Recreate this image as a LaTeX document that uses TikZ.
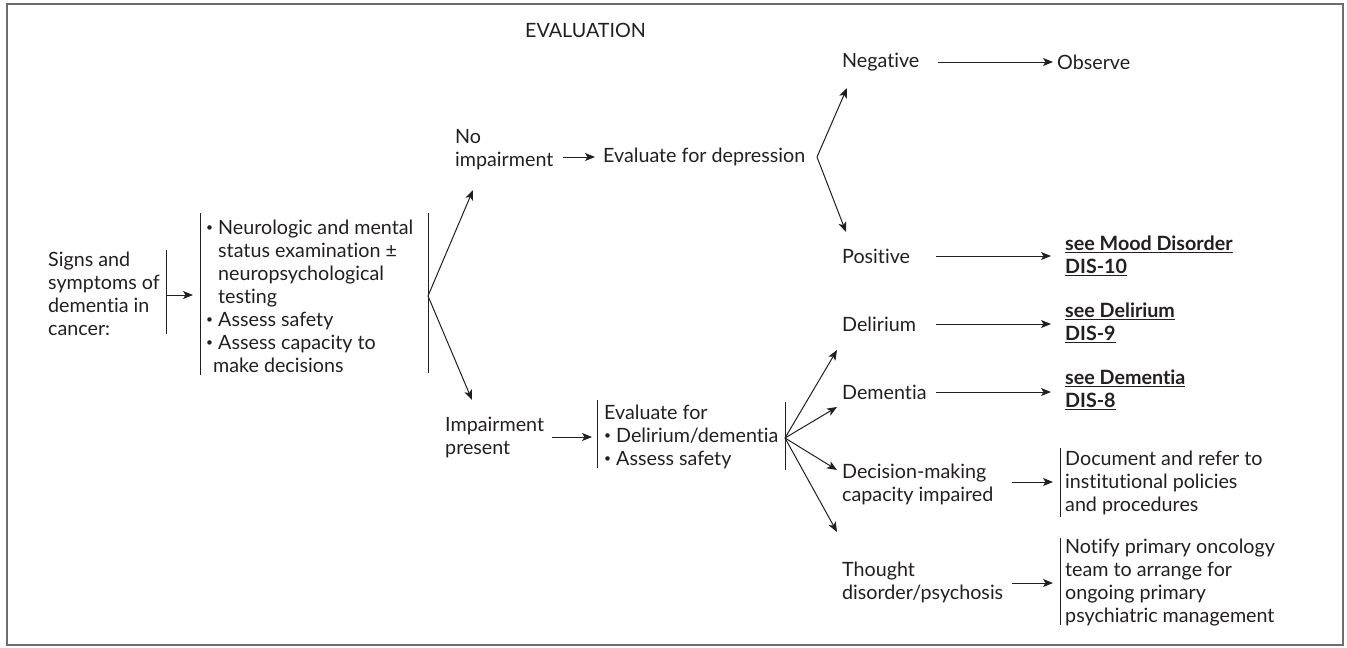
\documentclass[tikz,border=0pt]{standalone}
\usepackage{fontspec}
\setmainfont{Lato}[Ligatures=NoCommon]
\usetikzlibrary{arrows.meta}
\definecolor{ink}{HTML}{231F20}
\definecolor{framegray}{HTML}{6D6D6D}
\newcommand{\seeref}[1]{\underline{#1}}
\newcommand{\bul}{\raisebox{0.28ex}{\fontsize{12}{12}\selectfont•}}
\begin{document}
\begin{tikzpicture}[x=1pt,y=-1pt,
  txt/.style={anchor=west, align=left, inner sep=0pt, text=ink,
              font=\fontsize{19.7}{23}\selectfont},
  reftxt/.style={txt, font=\fontsize{19.7}{23}\selectfont\bfseries},
  arr/.style={-{Stealth[length=10pt,width=8pt,inset=2.5pt]}, line width=1pt, draw=ink},
  bar/.style={line width=1pt, draw=ink}]
\useasboundingbox (0,0) rectangle (1347,648);
\draw[framegray, line width=2pt] (7,4) rectangle (1343,645);

% ---- texts ----
\node[txt] (evaltitle) at (525,30) {EVALUATION};
\node[txt] (signs) at (48,294) {Signs and\\symptoms of\\dementia in\\cancer:};
\node[txt] (exam) at (206,296) {\bul\ Neurologic and mental\\
  \hphantom{\bul\ }status examination ±\\
  \hphantom{\bul\ }neuropsychological\\
  \hphantom{\bul\ }testing\\
  \bul\ Assess safety\\
  \bul\ Assess capacity to\\
  \hphantom{\bul}make decisions};
\node[txt] (noimp) at (455,150) {No\\impairment};
\node[txt] (evdep) at (603,157) {Evaluate for depression};
\node[txt] (impres) at (445,437) {Impairment\\present};
\node[txt] (evalfor) at (604,437) {Evaluate for\\\bul\ Delirium/dementia\\\bul\ Assess safety};

\node[txt] (neg) at (842,62) {Negative};
\node[txt] (observe) at (1057,62) {Observe};
\node[txt] (pos) at (842,256) {Positive};
\node[reftxt] (moodref) at (1065,256) {\seeref{see Mood Disorder}\\\seeref{DIS-10}};
\node[txt] (delir) at (842,324) {Delirium};
\node[reftxt] (delref) at (1065,323) {\seeref{see Delirium}\\\seeref{DIS-9}};
\node[txt] (dement) at (842,392) {Dementia};
\node[reftxt] (demref) at (1065,390) {\seeref{see Dementia}\\\seeref{DIS-8}};
\node[txt] (decis) at (842,484) {Decision-making\\capacity impaired};
\node[txt] (docref) at (1065,483) {Document and refer to\\institutional policies\\and procedures};
\node[txt] (thought) at (842,582) {Thought\\disorder/psychosis};
\node[txt] (notify) at (1065,583) {Notify primary oncology\\team to arrange for\\ongoing primary\\psychiatric management};

% ---- bracket bars ----
\draw[bar] (166,250) coordinate (signsbarT) -- (166,334) coordinate (signsbarB);
\coordinate (signsout) at (166,295);
\draw[bar] (200,213) coordinate (examlT) -- (200,375) coordinate (examlB);
\coordinate (examin) at (200,295);
\draw[bar] (428,213) coordinate (examrT) -- (428,373) coordinate (examrB);
\coordinate (examout) at (428,296);
\draw[bar] (597,400) coordinate (evforlT) -- (597,468) coordinate (evforlB);
\coordinate (evforin) at (597,437);
\draw[bar] (785,402) coordinate (evforrT) -- (785,470) coordinate (evforrB);
\coordinate (evforout) at (785,438);
\draw[bar] (1060,448) coordinate (docbarT) -- (1060,517) coordinate (docbarB);
\coordinate (docin) at (1060,482);
\draw[bar] (1060,538) coordinate (notbarT) -- (1060,625) coordinate (notbarB);
\coordinate (notin) at (1060,583);
\coordinate (depout) at (817,157);

% ---- arrow tails and tips ----
\coordinate (noimpTip) at (473,190);
\coordinate (impresTip) at (472,400);
\coordinate (negTip) at (847,88);
\coordinate (posTip) at (846,232);
\coordinate (delTip) at (837,350);
\coordinate (demTip) at (837,407);
\coordinate (decTip) at (837,470);
\coordinate (thTip) at (837,532);
\coordinate (noimpOut) at (563,157);
\coordinate (impresOut) at (552,437);
\coordinate (negOut) at (938,62);
\coordinate (posOut) at (936,256);
\coordinate (delOut) at (936,324);
\coordinate (demOut) at (936,392);
\coordinate (decOut) at (1012,482);
\coordinate (thOut) at (1012,583);

% ---- connectors ----
\draw[arr, shorten >=7pt] (signsout) -- (examin);
\draw[arr] (examout) -- (noimpTip);
\draw[arr] (examout) -- (impresTip);
\draw[arr, shorten >=8pt] (noimpOut) -- (evdep.west);
\draw[arr] (depout) -- (negTip);
\draw[arr] (depout) -- (posTip);
\draw[arr, shorten >=4pt] (negOut) -- (observe.west);
\draw[arr, shorten >=14pt] (posOut) -- (moodref.west |- posOut);
\draw[arr, shorten >=14pt] (delOut) -- (delref.west |- delOut);
\draw[arr, shorten >=14pt] (demOut) -- (demref.west |- demOut);
\draw[arr, shorten >=5pt] (impresOut) -- (evforin);
\draw[arr] (evforout) -- (delTip);
\draw[arr] (evforout) -- (demTip);
\draw[arr] (evforout) -- (decTip);
\draw[arr] (evforout) -- (thTip);
\draw[arr, shorten >=7pt] (decOut) -- (docin);
\draw[arr, shorten >=7pt] (thOut) -- (notin);
\end{tikzpicture}
\end{document}
